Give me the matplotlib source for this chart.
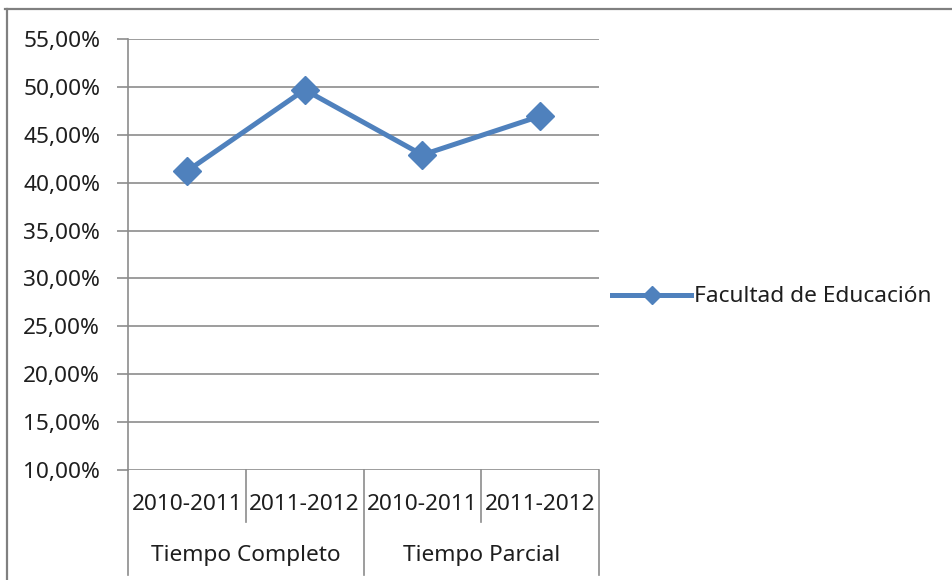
import matplotlib.pyplot as plt
from matplotlib.lines import Line2D
from matplotlib.ticker import FuncFormatter, MultipleLocator

# Data
years = ["2010-2011", "2011-2012", "2010-2011", "2011-2012"]
groups = ["Tiempo Completo", "Tiempo Parcial"]
values = [41.2, 49.7, 42.9, 46.95]
series_name = "Facultad de Educación"

plt.rcParams["font.family"] = ["Noto Sans", "DejaVu Sans"]
blue = "#4F81BD"
grid_gray = "#8C8C8C"
fs = 16.3

fig = plt.figure(figsize=(9.53, 5.8), dpi=100)
ax = fig.add_axes([128 / 953, 1 - 470 / 580, 471 / 953, 431 / 580])

x = list(range(len(values)))
ax.plot(x, values, color=blue, linewidth=3.6, marker="D", markersize=14,
        label=series_name, zorder=3, clip_on=False)

ax.set_xlim(-0.5, len(values) - 0.5)
ax.set_ylim(10, 55)
ax.yaxis.set_major_locator(MultipleLocator(5))
ax.yaxis.set_major_formatter(FuncFormatter(lambda v, p: f"{v:.2f}".replace(".", ",") + "%"))
ax.grid(axis="y", color=grid_gray, linewidth=1.2)
ax.set_axisbelow(True)

for s in ["top", "right", "bottom"]:
    ax.spines[s].set_visible(False)
ax.spines["left"].set_color(grid_gray)
ax.spines["left"].set_linewidth(1.2)
ax.tick_params(axis="y", length=8, width=1.2, color=grid_gray, labelsize=fs, pad=12, labelcolor="#1e1e1e")
ax.tick_params(axis="x", length=0, labelbottom=False)

# two-level category axis
trans = ax.get_xaxis_transform()
for i, yr in enumerate(years):
    ax.text(i, -35 / 431, yr, transform=trans, ha="center", va="center", fontsize=fs, color="#1e1e1e")
for j, g in enumerate(groups):
    ax.text(2 * j + 0.5, -86 / 431, g, transform=trans, ha="center", va="center", fontsize=fs, color="#1e1e1e")
for k in range(len(values) + 1):
    xb = k - 0.5
    low = -105 / 431 if k % 2 == 0 else -52 / 431
    ax.plot([xb, xb], [0, low], transform=trans, color=grid_gray, linewidth=1.2, clip_on=False)

# legend
fig.legend(loc="center left", bbox_to_anchor=(612 / 953, 1 - 297 / 580), frameon=False,
           fontsize=fs, handlelength=3.5, handletextpad=0.12, borderpad=0, borderaxespad=0,
           markerscale=0.65, labelcolor="#1e1e1e")

# outer chart border (top and left visible)
fig.add_artist(Line2D([5 / 953, 1], [1 - 9 / 580] * 2, transform=fig.transFigure, color="#808080", linewidth=1.6))
fig.add_artist(Line2D([7 / 953] * 2, [1 - 9 / 580, 0], transform=fig.transFigure, color="#808080", linewidth=1.6))

fig.savefig("out.png", dpi=100)
